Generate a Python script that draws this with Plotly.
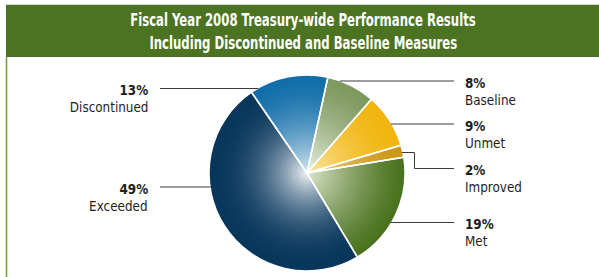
import plotly.graph_objects as go
import math
import json

# ---- data ----
categories = ["Discontinued", "Baseline", "Unmet", "Improved", "Met", "Exceeded"]
values = [13, 8, 9, 2, 19, 49]
pct_labels = ["13%", "8%", "9%", "2%", "19%", "49%"]

title_lines = ["Fiscal Year 2008 Treasury-wide Performance Results",
               "Including Discontinued and Baseline Measures"]

# ---- styles ----
W, H = 599, 277
edge_colors = [(18, 110, 170), (126, 153, 94), (241, 181, 14), (202, 152, 22), (74, 114, 30), (8, 55, 92)]
center_colors = [(215, 232, 242), (236, 241, 230), (250, 230, 165), (240, 215, 150), (222, 230, 206), (246, 248, 252)]
powers = [1.6, 1.4, 1.6, 1.5, 1.3, 2.2]

CX, CY, R = 307, 173, 98   # pie centre / radius in pixels
ROT = -34.5
FONT = "DejaVu Sans Condensed, Liberation Sans Narrow, Arial Narrow, sans-serif"
TITLE_SCALE = 0.765
LABEL_SCALE = 0.92
LABEL_SIZE = 14.5


def px(x):
    return x / W


def py(y):
    return 1 - y / H


def dom(r):
    return dict(x=[px(CX - r), px(CX + r)], y=[py(CY + r), py(CY - r)])


def mix(c0, c1, f):
    return "rgb(%d,%d,%d)" % tuple(round(a + (b - a) * f) for a, b in zip(c0, c1))


fig = go.Figure()
N = 36
for k in range(N, 0, -1):
    t = k / N
    cols = [mix(center_colors[i], edge_colors[i], 1 - (1 - t) ** powers[i]) for i in range(len(values))]
    fig.add_trace(go.Pie(
        labels=categories, values=values, sort=False, direction="clockwise",
        rotation=ROT, domain=dom(R * t), textinfo="none", hoverinfo="skip",
        marker=dict(colors=cols, line=dict(width=0)), showlegend=False))

# white separators
fig.add_trace(go.Pie(
    labels=categories, values=values, sort=False, direction="clockwise",
    rotation=ROT, domain=dom(R), textinfo="none", hoverinfo="label+percent",
    marker=dict(colors=["rgba(0,0,0,0)"] * len(values), line=dict(color="white", width=1.5)),
    showlegend=False))

shapes = []
annotations = []
squeeze = {}   # text -> [scale, anchor]

# title bar
shapes.append(dict(type="rect", xref="paper", yref="paper", x0=px(6), x1=px(600), y0=py(57), y1=py(5),
                   fillcolor="#4b7321", line=dict(width=0), layer="below"))
shapes.append(dict(type="line", xref="paper", yref="paper", x0=px(6), x1=px(600), y0=py(4.5), y1=py(4.5),
                   line=dict(color="#d8d8d8", width=1)))
shapes.append(dict(type="line", xref="paper", yref="paper", x0=px(6.5), x1=px(6.5), y0=py(57), y1=py(278),
                   line=dict(color="#6c9a3c", width=1.5)))

for line, yy in zip(title_lines, [19.5, 43]):
    annotations.append(dict(text="<b>%s</b>" % line, x=px(303), y=py(yy), xref="paper", yref="paper",
                            xanchor="center", yanchor="middle", showarrow=False,
                            font=dict(family=FONT, size=17, color="white")))
    squeeze[line] = [TITLE_SCALE, "center"]

label_y = {"Discontinued": 88.5, "Exceeded": 187, "Baseline": 81, "Unmet": 124, "Improved": 168.5, "Met": 222.5}
LINE_COL = "#3a3a3a"


def edge_x(y, side):
    d = math.sqrt(max(R * R - (y - CY) ** 2, 0))
    return CX - d if side == "L" else CX + d


for cat, pct in zip(categories, pct_labels):
    y = label_y[cat]
    side = "L" if cat in ("Discontinued", "Exceeded") else "R"
    if side == "L":
        shapes.append(dict(type="line", xref="paper", yref="paper", x0=px(160), x1=px(edge_x(y, "L") + 1),
                           y0=py(y), y1=py(y), line=dict(color=LINE_COL, width=1)))
        tx, anchor = 149.5, "right"
    else:
        if cat == "Improved":
            ys = 152.5
            xs = edge_x(ys, "R") - 1
            pts = [(xs, ys), (414.5, ys), (414.5, y), (454, y)]
            path = "M " + " L ".join("%f,%f" % (px(a), py(b)) for a, b in pts)
            shapes.append(dict(type="path", xref="paper", yref="paper", path=path,
                               line=dict(color=LINE_COL, width=1)))
        else:
            shapes.append(dict(type="line", xref="paper", yref="paper", x0=px(edge_x(y, "R") - 1), x1=px(454),
                               y0=py(y), y1=py(y), line=dict(color=LINE_COL, width=1)))
        tx, anchor = 463, "left"
    annotations.append(dict(text="<b>%s</b>" % pct, x=px(tx), y=py(y + 1.5), xref="paper", yref="paper",
                            xanchor=anchor, yanchor="middle", showarrow=False,
                            font=dict(family=FONT, size=LABEL_SIZE, color="#1e1e1e")))
    annotations.append(dict(text=cat, x=px(tx), y=py(y + 18.5), xref="paper", yref="paper",
                            xanchor=anchor, yanchor="middle", showarrow=False,
                            font=dict(family=FONT, size=LABEL_SIZE, color="#1e1e1e")))
    squeeze[pct] = [LABEL_SCALE, anchor]
    squeeze[cat] = [LABEL_SCALE, anchor]

fig.update_layout(width=W, height=H, margin=dict(l=0, r=0, t=0, b=0),
                  paper_bgcolor="white", plot_bgcolor="white",
                  shapes=shapes, annotations=annotations, showlegend=False)

post = """
document.body.style.margin = '0';
document.body.style.padding = '0';
(function(){
  var conf = %s;
  function sq(){
    var gd = document.getElementById('{plot_id}');
    if(!gd) return;
    gd.querySelectorAll('text.annotation-text').forEach(function(t){
      var c = conf[t.textContent];
      if(!c || t.getAttribute('data-sq')) return;
      var b = t.getBBox();
      var ax = c[1] === 'center' ? b.x + b.width / 2 : (c[1] === 'right' ? b.x + b.width : b.x);
      var prev = t.getAttribute('transform') || '';
      t.setAttribute('transform', prev + ' translate(' + ax + ',0) scale(' + c[0] + ',1) translate(' + (-ax) + ',0)');
      t.setAttribute('data-sq', '1');
    });
  }
  sq();
  setTimeout(sq, 0);
  setTimeout(sq, 100);
})();
""" % json.dumps(squeeze)

fig.write_html("out.html", post_script=post, config={"displayModeBar": False})
